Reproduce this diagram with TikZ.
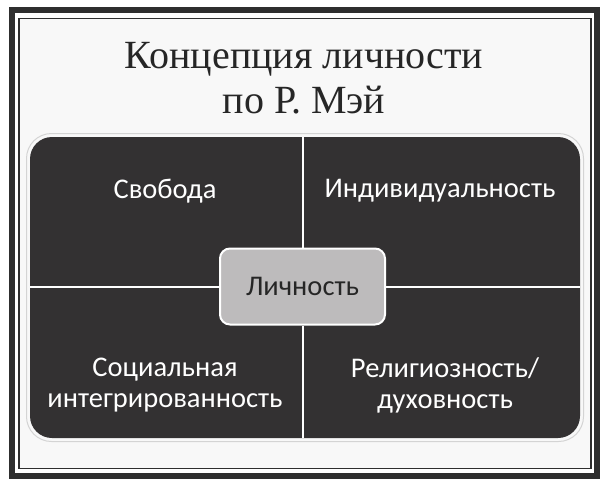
\documentclass[tikz,border=0pt]{standalone}
\usepackage{fontspec}
\setmainfont{Liberation Serif}
\newfontfamily\bodyfont{Carlito}
\definecolor{framec}{HTML}{2E2E2E}
\definecolor{paper}{HTML}{F8F8F8}
\definecolor{panelc}{HTML}{333132}
\definecolor{corec}{HTML}{BDBBBC}
\definecolor{haloc}{HTML}{D4D4D4}
\tikzset{
  panelbox/.style={rectangle, rounded corners=22pt, fill=panelc, minimum width=550pt, minimum height=301pt, inner sep=0pt},
  corebox/.style={rectangle, rounded corners=10pt, fill=corec, draw=white, line width=2pt, minimum width=165pt, minimum height=76pt, font=\bodyfont\fontsize{28.5}{32}\selectfont, text=black!85},
  quadtext/.style={align=center, text=white, font=\bodyfont\fontsize{28.5}{31}\selectfont},
  divider/.style={draw=white, line width=2pt},
  titletext/.style={align=center, text=black!85, font=\fontsize{40}{45}\selectfont}
}
\begin{document}
\begin{tikzpicture}[x=1pt,y=-1pt]
\useasboundingbox (0,0) rectangle (610,482);
\fill[white] (0,0) rectangle (610,482);
\draw[framec, line width=6pt] (11.5,10) rectangle (596.5,475.5);
\draw[framec, line width=1.2pt, fill=paper] (19,18.5) rectangle (591,468.5);
\node[titletext] (title) at (304,78) {Концепция личности\\по Р. Мэй};
\draw[haloc, line width=1pt, rounded corners=25pt] (26.5,133.5) rectangle (583.5,441.5);
\node[panelbox] (panel) at (305,287.5) {};
\node[corebox] (core) at (302.5,286.5) {Личность};
\draw[divider] (panel.north -| core.north) -- (core.north);
\draw[divider] (core.south) -- (panel.south -| core.south);
\draw[divider] (panel.west |- core.west) -- (core.west);
\draw[divider] (core.east) -- (panel.east |- core.east);
\node[quadtext] (q1) at (165,191) {Свобода};
\node[quadtext] (q2) at (440,191) {Индивидуальность};
\node[quadtext] (q3) at (165,385) {Социальная\\интегрированность};
\node[quadtext] (q4) at (445,385) {Религиозность/\\духовность};
\end{tikzpicture}
\end{document}
